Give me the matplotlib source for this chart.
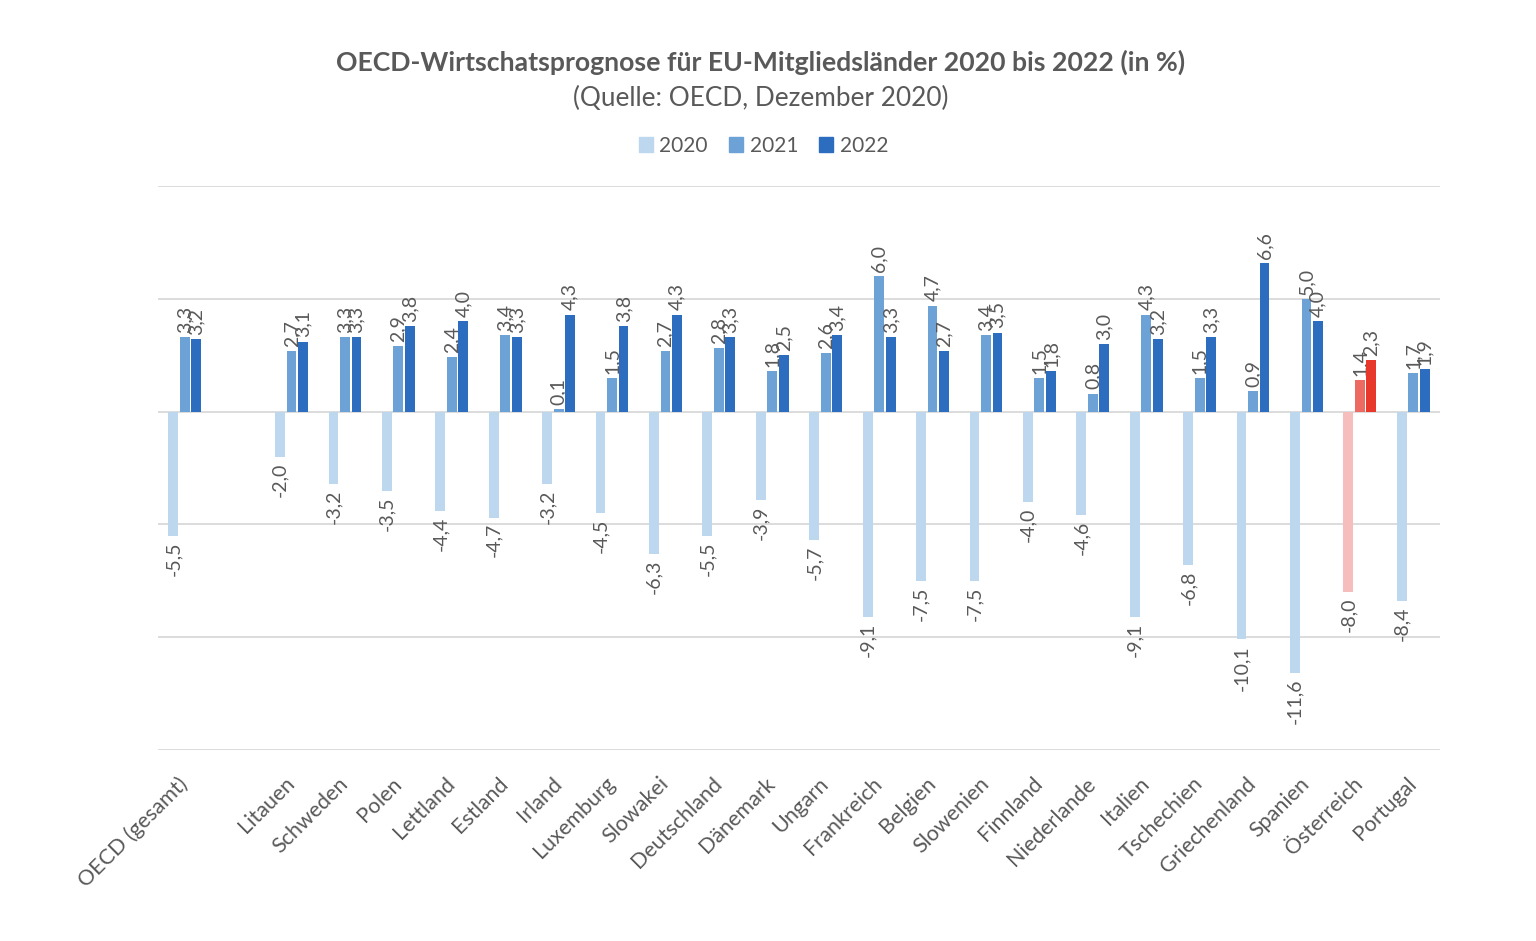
import numpy as np
import matplotlib
matplotlib.use("Agg")
import matplotlib.pyplot as plt
from matplotlib.patches import Patch

plt.rcParams["font.family"] = ["Lato", "DejaVu Sans"]

# %%
# data (empty slot after OECD kept as "")
countries = [
    "OECD (gesamt)", "", "Litauen", "Schweden", "Polen", "Lettland", "Estland",
    "Irland", "Luxemburg", "Slowakei", "Deutschland", "Dänemark", "Ungarn",
    "Frankreich", "Belgien", "Slowenien", "Finnland", "Niederlande", "Italien",
    "Tschechien", "Griechenland", "Spanien", "Österreich", "Portugal",
]
v2020 = [-5.5, None, -2.0, -3.2, -3.5, -4.4, -4.7, -3.2, -4.5, -6.3, -5.5, -3.9,
         -5.7, -9.1, -7.5, -7.5, -4.0, -4.6, -9.1, -6.8, -10.1, -11.6, -8.0, -8.4]
v2021 = [3.3, None, 2.7, 3.3, 2.9, 2.4, 3.4, 0.1, 1.5, 2.7, 2.8, 1.8,
         2.6, 6.0, 4.7, 3.4, 1.5, 0.8, 4.3, 1.5, 0.9, 5.0, 1.4, 1.7]
v2022 = [3.2, None, 3.1, 3.3, 3.8, 4.0, 3.3, 4.3, 3.8, 4.3, 3.3, 2.5,
         3.4, 3.3, 2.7, 3.5, 1.8, 3.0, 3.2, 3.3, 6.6, 4.0, 2.3, 1.9]
years = ["2020", "2021", "2022"]

blues = ["#BDD7EE", "#6CA2D6", "#2D6DBF"]
reds = ["#F5BDBB", "#EC6A62", "#E8372B"]
highlight = "Österreich"
txt = "#595959"

# %%
fig = plt.figure(figsize=(15.36, 9.41), dpi=100)
ax = fig.add_axes([158 / 1536, 1 - 750 / 941, (1440 - 158) / 1536, (750 - 186) / 941])

x = np.arange(len(countries))
w = 0.185
step = 0.215
for k, vals in enumerate([v2020, v2021, v2022]):
    for i, v in enumerate(vals):
        if v is None:
            continue
        col = reds[k] if countries[i] == highlight else blues[k]
        xi = x[i] + (k - 1) * step
        ax.bar(xi, v, width=w, color=col, zorder=3)
        lab = f"{v:.1f}".replace(".", ",")
        if v >= 0:
            ax.annotate(lab, (xi, v), xytext=(0, 3), textcoords="offset points",
                        rotation=90, ha="center", va="bottom", fontsize=14, color=txt)
        else:
            ax.annotate(lab, (xi, v), xytext=(0, -4), textcoords="offset points",
                        rotation=90, ha="center", va="top", fontsize=14, color=txt)

ax.set_xlim(-0.5, len(countries) - 0.5)
ax.set_ylim(-15, 10)
ax.set_yticks([-15, -10, -5, 0, 5, 10])
ax.grid(axis="y", color="#D9D9D9", linewidth=1.3, zorder=0)
ax.set_yticklabels([])
ax.tick_params(axis="both", length=0)
for s in ax.spines.values():
    s.set_visible(False)

ax.set_xticks(x)
ax.set_xticklabels(countries, rotation=45, ha="right", va="center",
                   rotation_mode="anchor", fontsize=15.5, color=txt)
ax.tick_params(axis="x", pad=22)

fig.text(0.495, 1 - 62 / 941, "OECD-Wirtschatsprognose für EU-Mitgliedsländer 2020 bis 2022 (in %)",
         ha="center", va="center", fontsize=19.2, fontweight="bold", color=txt)
fig.text(0.495, 1 - 98 / 941, "(Quelle: OECD, Dezember 2020)",
         ha="center", va="center", fontsize=18.8, color=txt)

handles = [Patch(color=c) for c in blues]
fig.legend(handles, years, loc="center", bbox_to_anchor=(0.497, 1 - 146 / 941), ncol=3,
           frameon=False, fontsize=15, handlelength=0.7, handleheight=0.7,
           handletextpad=0.3, columnspacing=1.0, labelcolor=txt)

fig.savefig("out.png", dpi=100, facecolor="white")
